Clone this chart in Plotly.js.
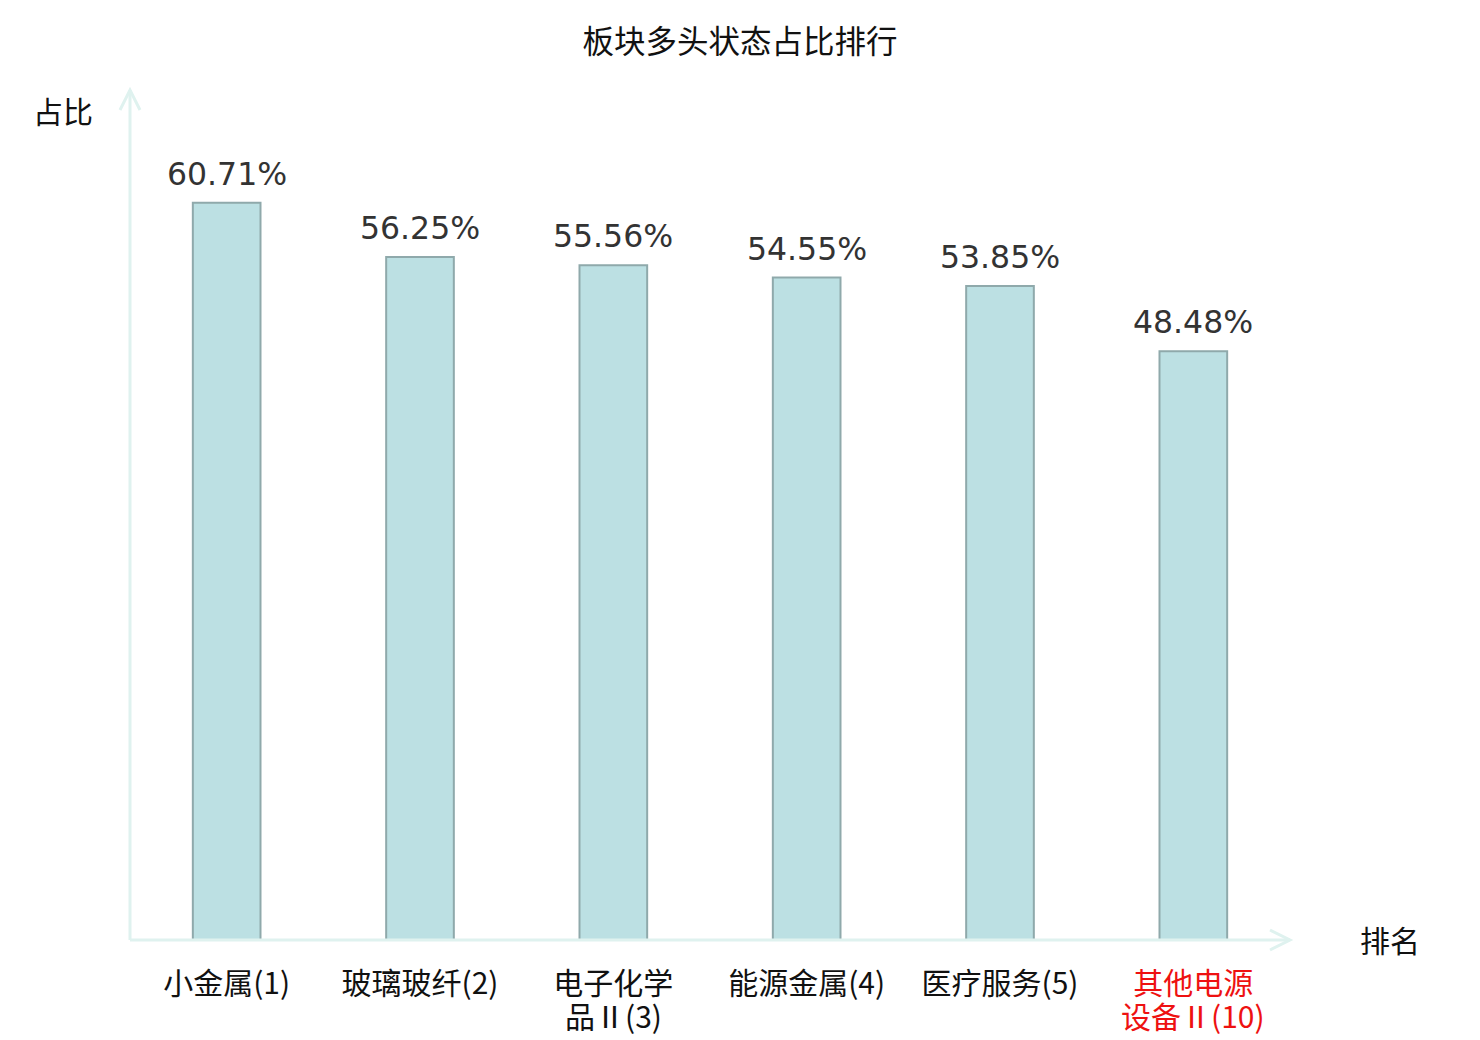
<!DOCTYPE html>
<html>
<head>
<meta charset="utf-8">
<script src="https://cdn.plot.ly/plotly-3.0.1.min.js"></script>
<style>
  html, body { margin: 0; padding: 0; background: #fff; }
  #myDiv { width: 1480px; height: 1040px; }
</style>
</head>
<body>
<div id="myDiv"></div>
<script>
// sector data: name line 1, name line 2 (wrapped part), rank, ratio
var sectors = ['小金属', '玻璃玻纤', '电子化学', '能源金属', '医疗服务', '其他电源'];
var sectorsLine2 = ['', '', '品Ⅱ', '', '', '设备Ⅱ'];
var ranks = [1, 2, 3, 4, 5, 10];
var ratios = [60.71, 56.25, 55.56, 54.55, 53.85, 48.48];
var highlight = [false, false, false, false, false, true];

var cjk = '"Noto Sans CJK SC", "DejaVu Sans", sans-serif';
var axisColor = '#dff2ef';
var red = '#ee1111';

function withRank(i) {
  return (sectorsLine2[i] ? sectorsLine2[i] : sectors[i]) + '(' + ranks[i] + ')';
}

var tickText = sectors.map(function(s, i) {
  var t = sectorsLine2[i] ? s : withRank(i);
  return highlight[i] ? '<span style="color:' + red + '">' + t + '</span>' : t;
});

var data = [{
  type: 'bar',
  x: sectors,
  y: ratios,
  width: 0.35,
  marker: { color: '#bce0e3', line: { color: '#8fa9ab', width: 2 } },
  hoverinfo: 'skip'
}];

var labels = ratios.map(function(v, i) {
  return {
    x: sectors[i], y: v, xref: 'x', yref: 'y',
    text: v.toFixed(2) + '%',
    showarrow: false, yanchor: 'bottom', yshift: 9,
    font: { family: '"DejaVu Sans", sans-serif', size: 31.5, color: '#333333' }
  };
});

// second line of wrapped tick labels
sectors.forEach(function(s, i) {
  if (!sectorsLine2[i]) return;
  labels.push({
    x: s, xref: 'x', y: 0, yref: 'paper', yanchor: 'middle', yshift: -75,
    text: withRank(i), showarrow: false,
    font: { family: cjk, size: 30, color: highlight[i] ? red : '#111' }
  });
});

labels.push({
  xref: 'paper', yref: 'paper', x: -0.058, y: 0.976, xanchor: 'center', yanchor: 'middle',
  text: '占比', showarrow: false, font: { family: cjk, size: 30, color: '#111' }
});
labels.push({
  xref: 'paper', yref: 'paper', x: 1.086, y: 0.001, xanchor: 'center', yanchor: 'middle',
  text: '排名', showarrow: false, font: { family: cjk, size: 30, color: '#111' }
});

var shapes = [
  { type: 'line', xref: 'paper', yref: 'paper', x0: 0, x1: 1, y0: 0, y1: 0,
    line: { color: axisColor, width: 3 } },
  { type: 'line', xref: 'paper', yref: 'paper', x0: 0, x1: 0, y0: 0, y1: 1,
    line: { color: axisColor, width: 3 } },
  // arrow heads
  { type: 'path', xref: 'paper', yref: 'paper', xsizemode: 'pixel', ysizemode: 'pixel',
    xanchor: 0, yanchor: 1, path: 'M-10,-20 L0,0 L10,-20',
    line: { color: axisColor, width: 3 } },
  { type: 'path', xref: 'paper', yref: 'paper', xsizemode: 'pixel', ysizemode: 'pixel',
    xanchor: 1, yanchor: 0, path: 'M-20,-10 L0,0 L-20,10',
    line: { color: axisColor, width: 3 } }
];

var layout = {
  width: 1480, height: 1040,
  margin: { l: 130, r: 190, t: 90, b: 100 },
  paper_bgcolor: '#ffffff', plot_bgcolor: '#ffffff',
  showlegend: false,
  title: {
    text: '板块多头状态占比排行',
    x: 0.5, xanchor: 'center', y: 0.96, yref: 'container', yanchor: 'middle',
    font: { family: cjk, size: 31.5, color: '#111' }
  },
  xaxis: {
    type: 'category',
    range: [-0.5, 5.5],
    tickvals: sectors, ticktext: tickText,
    ticks: 'outside', ticklen: 17, tickcolor: 'rgba(0,0,0,0)',
    showline: false, showgrid: false, zeroline: false,
    tickfont: { family: cjk, size: 30, color: '#111' },
    fixedrange: true
  },
  yaxis: {
    range: [0, 70],
    showticklabels: false, showgrid: false, zeroline: false, showline: false, ticks: '',
    fixedrange: true
  },
  annotations: labels,
  shapes: shapes
};

Plotly.newPlot('myDiv', data, layout, { displayModeBar: false, staticPlot: true });
</script>
</body>
</html>
